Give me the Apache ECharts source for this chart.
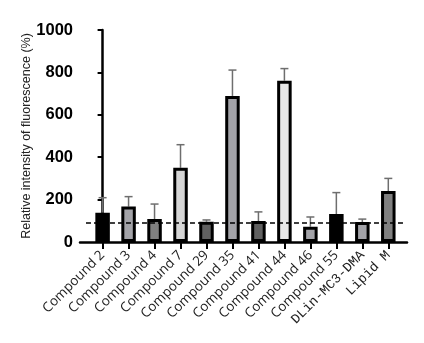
<!DOCTYPE html>
<html>
<head>
<meta charset="utf-8">
<script src="https://cdn.jsdelivr.net/npm/echarts@6/dist/echarts.min.js"></script>
<style>
  html, body { margin: 0; padding: 0; background: #fff; }
  #chart { width: 424px; height: 343px; }
</style>
</head>
<body>
<div id="chart"></div>
<script>
// Relative fluorescence intensity per formulation (mean + upper SD)
const categories = ['Compound 2', 'Compound 3', 'Compound 4', 'Compound 7', 'Compound 29',
  'Compound 35', 'Compound 41', 'Compound 44', 'Compound 46', 'Compound 55',
  'DLin-MC3-DMA', 'Lipid M'];
const means = [138, 167, 108, 350, 96, 689, 99, 761, 72, 132, 94, 240];
const errors = [71, 47, 71, 109, 8, 122, 43, 57, 46, 101, 14, 60];
const barColors = ['#000000', '#a3a3a8', '#808080', '#d6d6d6', '#606060', '#a3a3a8',
  '#606060', '#e8e8e8', '#a3a3a8', '#000000', '#a3a3a8', '#808080'];
const yTicks = [0, 200, 400, 600, 800, 1000];
const baseline = 90;
const monoLabels = ['DLin-MC3-DMA', 'Lipid M'];

const idx = categories.map((_, i) => i);

const chart = echarts.init(document.getElementById('chart'), null, { renderer: 'canvas' });

chart.setOption({
  animation: false,
  grid: { left: 80, right: 17, top: 30, bottom: 101, containLabel: false },
  xAxis: {
    type: 'value',
    min: -0.87,
    max: 11.72,
    splitLine: { show: false },
    axisLine: { show: true, lineStyle: { color: '#000', width: 2.5 } },
    axisTick: { show: true, customValues: idx, length: 7, lineStyle: { color: '#000', width: 2 } },
    axisLabel: {
      customValues: idx,
      rotate: 45,
      margin: 11,
      color: '#222',
      fontFamily: 'Open Sans',
      fontSize: 13.5,
      formatter: v => {
        const name = categories[Math.round(v)];
        return monoLabels.includes(name) ? '{mono|' + name + '}' : name;
      },
      rich: {
        mono: { fontFamily: 'Liberation Mono', fontSize: 13.5, color: '#222' }
      }
    }
  },
  yAxis: {
    type: 'value',
    min: 0,
    max: 1000,
    interval: 200,
    name: 'Relative intensity of fluorescence (%)',
    nameLocation: 'middle',
    nameRotate: 90,
    nameGap: 47,
    nameMoveOverlap: false,
    nameTextStyle: { fontFamily: 'Liberation Sans', fontSize: 12.5, color: '#222' },
    splitLine: { show: false },
    axisLine: { show: true, lineStyle: { color: '#000', width: 2.5 } },
    axisTick: { show: true, length: 5, lineStyle: { color: '#000', width: 2 } },
    axisLabel: {
      margin: 7,
      color: '#000',
      fontFamily: 'Liberation Sans',
      fontWeight: 'bold',
      fontSize: 16.5,
      customValues: yTicks,
      formatter: v => String(v)
    }
  },
  series: [
    {
      type: 'bar',
      barWidth: 14.5,
      z: 2,
      data: means.map((m, i) => ({
        value: [i, m],
        itemStyle: { color: barColors[i], borderColor: '#000', borderWidth: 3 }
      })),
      markLine: {
        silent: true,
        symbol: 'none',
        label: { show: false },
        lineStyle: { color: '#000', type: [5, 3], width: 1.5 },
        data: [[{ coord: [-0.64, baseline] }, { coord: [11.57, baseline] }]]
      }
    },
    {
      type: 'custom',
      z: 1,
      data: means.map((m, i) => [i, m, m + errors[i]]),
      renderItem: (params, api) => {
        const x = api.value(0);
        const lo = api.coord([x, api.value(1)]);
        const hi = api.coord([x, api.value(2)]);
        const half = 4;
        const style = { stroke: '#6e6e6e', lineWidth: 1.5 };
        return {
          type: 'group',
          children: [
            { type: 'line', shape: { x1: lo[0], y1: lo[1], x2: hi[0], y2: hi[1] }, style },
            { type: 'line', shape: { x1: hi[0] - half, y1: hi[1], x2: hi[0] + half, y2: hi[1] }, style }
          ]
        };
      }
    }
  ]
});
</script>
</body>
</html>
